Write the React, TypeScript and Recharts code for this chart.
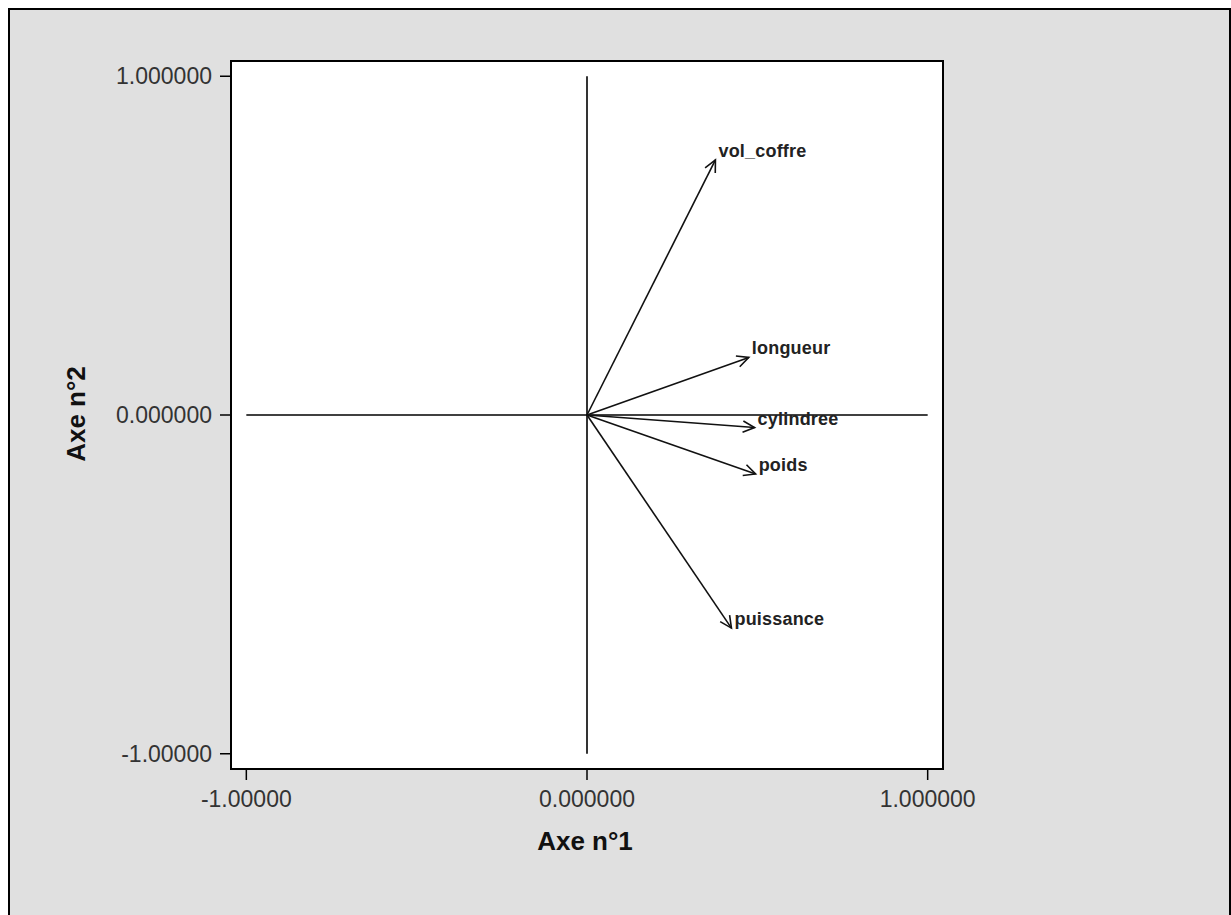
import React from 'react';
import { ScatterChart, Scatter, XAxis, YAxis, CartesianGrid, ReferenceLine, ReferenceArea } from 'recharts';

const variables = ['vol_coffre', 'longueur', 'cylindree', 'poids', 'puissance'];
const axis1 = [0.377, 0.475, 0.492, 0.495, 0.424];
const axis2 = [0.753, 0.17, -0.037, -0.174, -0.629];
const axisTicks = [-1, 0, 1];
const tickLabels: Record<string, string> = { '-1': '-1.00000', '0': '0.000000', '1': '1.000000' };
const xTitle = 'Axe n°1';
const yTitle = 'Axe n°2';

const DOMAIN: [number, number] = [-1.045, 1.045];
const points = variables.map((name, i) => ({ name, x: axis1[i], y: axis2[i] }));

const ArrowShape = (label: string) => (props: any) => {
  const { x1, y1, x2, y2 } = props;
  if ([x1, y1, x2, y2].some((v) => typeof v !== 'number' || isNaN(v))) return null;
  const ang = Math.atan2(y2 - y1, x2 - x1);
  const L = 13;
  const a = (26 * Math.PI) / 180;
  const p1 = [x2 - L * Math.cos(ang - a), y2 - L * Math.sin(ang - a)];
  const p2 = [x2 - L * Math.cos(ang + a), y2 - L * Math.sin(ang + a)];
  return (
    <g>
      <line x1={x1} y1={y1} x2={x2} y2={y2} stroke="#111" strokeWidth={1.6} />
      <polyline
        points={`${p1[0]},${p1[1]} ${x2},${y2} ${p2[0]},${p2[1]}`}
        fill="none"
        stroke="#111"
        strokeWidth={1.6}
      />
      <text
        x={x2 + 3}
        y={y2 - 3}
        fontFamily="Liberation Sans, Arial, sans-serif"
        fontWeight="bold"
        fontSize={18}
        fill="#222"
        letterSpacing={0.2}
      >
        {label}
      </text>
    </g>
  );
};

const tickStyle = { fontFamily: 'Liberation Sans, Arial, sans-serif', fontSize: 23, fill: '#333' };

export default function App() {
  return (
    <div
      style={{
        position: 'absolute',
        left: 8,
        top: 8,
        width: 1223,
        height: 907,
        overflow: 'hidden',
        background: '#e0e0e0',
        boxShadow: 'inset 2px 2px 0 #000, inset -2px 0 0 #000',
      }}
    >
      <ScatterChart width={1223} height={907} margin={{ top: 53, right: 288, bottom: 0, left: 0 }}>
        <CartesianGrid fill="#fff" horizontal={false} vertical={false} />
        <XAxis
          type="number"
          dataKey="x"
          domain={DOMAIN}
          allowDataOverflow
          ticks={axisTicks}
          tickFormatter={(v: number) => tickLabels[String(v)]}
          height={146}
          tickSize={11}
          tickMargin={11}
          tick={tickStyle}
          axisLine={{ stroke: '#000', strokeWidth: 2 }}
          tickLine={{ stroke: '#000', strokeWidth: 1.5 }}
          label={{
            content: (p: any) => {
              const vb = p.viewBox || {};
              return (
                <text
                  x={vb.x + vb.width / 2 - 2}
                  y={vb.y + 81}
                  textAnchor="middle"
                  fontFamily="Liberation Sans, Arial, sans-serif"
                  fontWeight="bold"
                  fontSize={26}
                  fill="#111"
                >
                  {xTitle}
                </text>
              );
            },
          }}
        />
        <YAxis
          type="number"
          dataKey="y"
          domain={DOMAIN}
          allowDataOverflow
          ticks={axisTicks}
          tickFormatter={(v: number) => tickLabels[String(v)]}
          width={223}
          tickSize={11}
          tickMargin={8}
          tick={tickStyle}
          axisLine={{ stroke: '#000', strokeWidth: 2 }}
          tickLine={{ stroke: '#000', strokeWidth: 1.5 }}
          label={{
            content: (p: any) => {
              const vb = p.viewBox || {};
              const cx = 77;
              const cy = vb.y + vb.height / 2 - 1;
              return (
                <text
                  x={cx}
                  y={cy}
                  transform={`rotate(-90, ${cx}, ${cy})`}
                  textAnchor="middle"
                  fontFamily="Liberation Sans, Arial, sans-serif"
                  fontWeight="bold"
                  fontSize={26}
                  fill="#111"
                >
                  {yTitle}
                </text>
              );
            },
          }}
        />
        <ReferenceArea
          x1={DOMAIN[0]}
          x2={DOMAIN[1]}
          y1={DOMAIN[0]}
          y2={DOMAIN[1]}
          fill="none"
          fillOpacity={0}
          stroke="#000"
          strokeWidth={2}
          ifOverflow="visible"
        />
        <ReferenceLine
          segment={[
            { x: -1, y: 0 },
            { x: 1, y: 0 },
          ]}
          stroke="#000"
          strokeWidth={1.6}
        />
        <ReferenceLine
          segment={[
            { x: 0, y: -1 },
            { x: 0, y: 1 },
          ]}
          stroke="#000"
          strokeWidth={1.6}
        />
        {points.map((p) => (
          <ReferenceLine
            key={p.name}
            segment={[
              { x: 0, y: 0 },
              { x: p.x, y: p.y },
            ]}
            shape={ArrowShape(p.name)}
          />
        ))}
        <Scatter data={points} isAnimationActive={false} shape={() => null} />
      </ScatterChart>
    </div>
  );
}
